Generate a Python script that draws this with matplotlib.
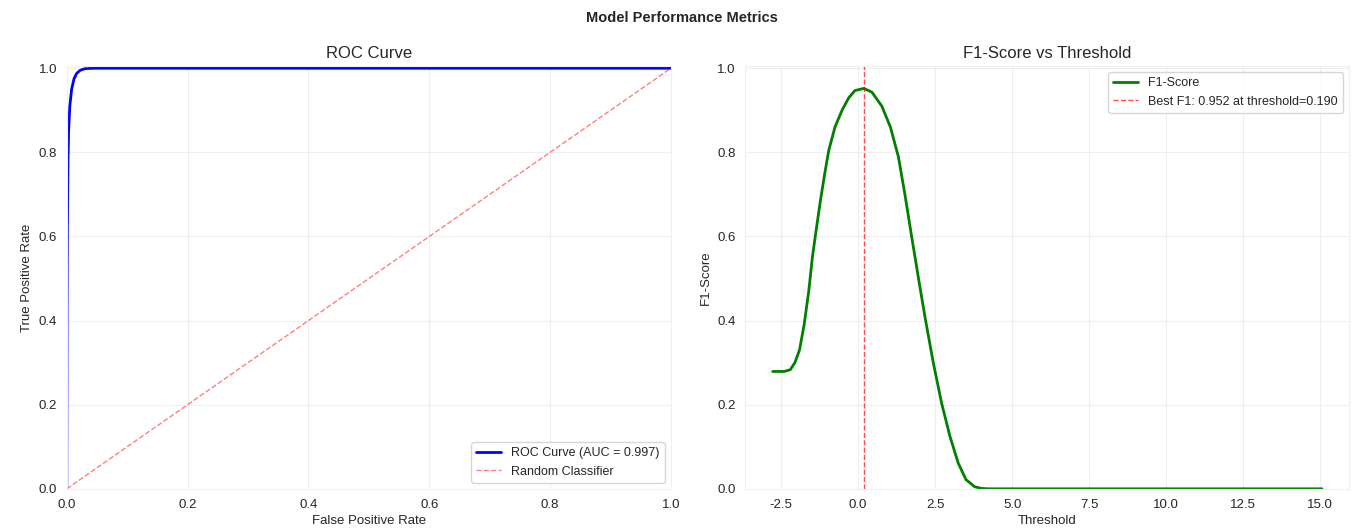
import matplotlib
matplotlib.use("Agg")
import matplotlib.pyplot as plt
import seaborn as sns

# ROC curve
fpr = [0.0, 0.0005, 0.001, 0.002, 0.003, 0.005, 0.008, 0.012, 0.016, 0.022, 0.03, 0.045, 0.07, 1.0]
tpr = [0.0, 0.45, 0.62, 0.78, 0.85, 0.91, 0.95, 0.975, 0.987, 0.995, 0.999, 1.0, 1.0, 1.0]
auc = 0.997

# F1-score vs threshold
thresholds = [-2.77, -2.4, -2.2, -2.05, -1.9, -1.75, -1.6, -1.48, -1.35, -1.22, -1.08,
              -0.95, -0.75, -0.52, -0.3, -0.1, 0.19, 0.45, 0.77, 1.05, 1.31, 1.52,
              1.74, 1.95, 2.17, 2.44, 2.71, 2.98, 3.25, 3.5, 3.78, 4.0, 4.2, 6.0, 10.0, 15.05]
f1_scores = [0.279, 0.279, 0.283, 0.300, 0.330, 0.390, 0.470, 0.552, 0.620, 0.686, 0.750,
             0.805, 0.860, 0.900, 0.930, 0.947, 0.952, 0.943, 0.910, 0.860, 0.789, 0.700,
             0.599, 0.505, 0.409, 0.300, 0.204, 0.125, 0.061, 0.022, 0.005, 0.001, 0.0, 0.0, 0.0, 0.0]
best_f1 = 0.952
best_threshold = 0.190

sns.set_style("whitegrid")
plt.rcParams["font.family"] = ["Liberation Sans", "DejaVu Sans"]
plt.rcParams["axes.edgecolor"] = "#f0f0f0"
plt.rcParams["grid.alpha"] = 0.3
plt.rcParams["axes.unicode_minus"] = False

fig, (ax1, ax2) = plt.subplots(1, 2, figsize=(13.63, 5.29), dpi=100)
fig.subplots_adjust(left=0.049, right=0.99, top=0.875, bottom=0.076, wspace=0.123)
fig.suptitle("Model Performance Metrics", fontsize=10.5, fontweight="bold", y=0.98)

# ROC
ax1.plot(fpr, tpr, color="blue", lw=2, label=f"ROC Curve (AUC = {auc:.3f})")
ax1.plot([0, 1], [0, 1], color="red", ls="--", lw=1, alpha=0.5, label="Random Classifier")
ax1.set_xlim(0, 1)
ax1.set_ylim(0, 1.005)
ax1.set_xlabel("False Positive Rate", fontsize=9.5, labelpad=3)
ax1.set_ylabel("True Positive Rate", fontsize=9.5)
ax1.set_title("ROC Curve", fontsize=12)
ax1.legend(loc="lower right", fontsize=9)
ax1.tick_params(labelsize=9.5)

# F1 vs threshold
ax2.plot(thresholds, f1_scores, color="green", lw=2, label="F1-Score")
ax2.axvline(best_threshold, color="red", ls="--", lw=1, alpha=0.7,
            label=f"Best F1: {best_f1:.3f} at threshold={best_threshold:.3f}")
ax2.set_ylim(0, 1.005)
ax2.set_xlabel("Threshold", fontsize=9.5, labelpad=3)
ax2.set_ylabel("F1-Score", fontsize=9.5)
ax2.set_title("F1-Score vs Threshold", fontsize=12)
ax2.legend(loc="upper right", fontsize=9)
ax2.tick_params(labelsize=9.5)

fig.savefig("out.png", dpi=100)
